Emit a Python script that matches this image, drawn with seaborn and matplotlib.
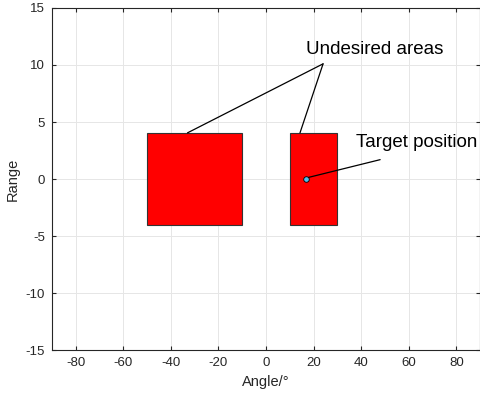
import matplotlib
matplotlib.use('Agg')
import matplotlib.pyplot as plt
import seaborn as sns
import pandas as pd

# Undesired areas (angle start/end, range low/high)
area_left = [-50, 10]
area_right = [-10, 30]
range_low = [-4, -4]
range_high = [4, 4]

# Target position
target_angle = [17]
target_range = [0]

x_ticks = [-80, -60, -40, -20, 0, 20, 40, 60, 80]
y_ticks = [-15, -10, -5, 0, 5, 10, 15]

sns.set_style('whitegrid')
plt.rcParams['font.family'] = ['Liberation Sans', 'DejaVu Sans']
plt.rcParams['axes.unicode_minus'] = False

fig = plt.figure(figsize=(4.81, 3.97), dpi=100)
ax = fig.add_axes([0.108, 0.118, 0.89, 0.862])

widths = [r - l for l, r in zip(area_left, area_right)]
heights = [h - l for l, h in zip(range_low, range_high)]
ax.bar(area_left, heights, width=widths, bottom=range_low, align='edge',
       color='#ff0000', edgecolor='#333333', linewidth=0.8, zorder=2)

df = pd.DataFrame({'angle': target_angle, 'range': target_range})
sns.scatterplot(data=df, x='angle', y='range', ax=ax, color='#4dbeee',
                edgecolor='black', linewidth=0.6, s=16, zorder=3)

# annotations
line_kw = dict(arrowstyle='-', color='black', lw=0.9, shrinkA=0, shrinkB=0)
ax.text(45.5, 11.4, 'Undesired areas', ha='center', va='center', fontsize=13.5, color='black')
ax.annotate('', xy=(-33, 4.05), xytext=(24, 10.1), arrowprops=line_kw, zorder=4)
ax.annotate('', xy=(14.3, 4.05), xytext=(24, 10.1), arrowprops=line_kw, zorder=4)
ax.text(63.5, 3.2, 'Target position', ha='center', va='center', fontsize=13.5, color='black')
ax.annotate('', xy=(18, 0.15), xytext=(48, 1.7), arrowprops=line_kw, zorder=4)

ax.set_xlim(-90, 90)
ax.set_ylim(-15, 15)
ax.set_xticks(x_ticks)
ax.set_yticks(y_ticks)
ax.set_xlabel('Angle/°', fontsize=10.5, color='#262626')
ax.set_ylabel('Range', fontsize=10.5, color='#262626')
ax.tick_params(direction='in', length=3, labelsize=9.5, colors='#262626',
               top=True, right=True, bottom=True, left=True,
               labeltop=False, labelright=False, pad=5)
ax.grid(True, color='#e6e6e6', linewidth=0.7)
for s in ax.spines.values():
    s.set_color('#262626')
    s.set_linewidth(0.8)

fig.savefig('out.png', dpi=100)
